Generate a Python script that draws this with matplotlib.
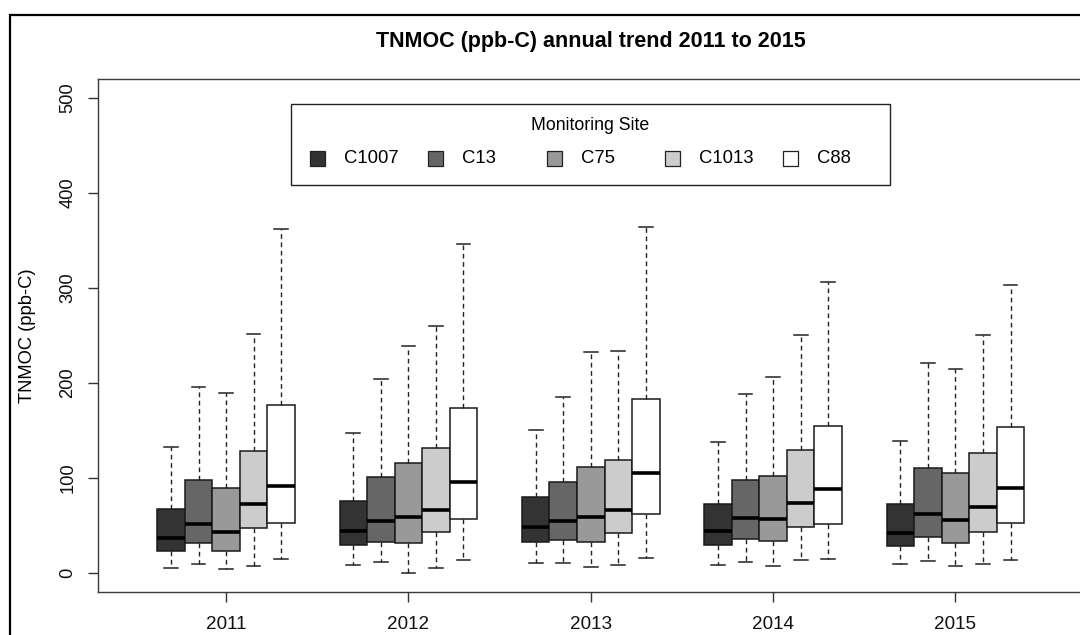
import matplotlib
matplotlib.use("Agg")
import matplotlib.pyplot as plt
from matplotlib.patches import Rectangle

plt.rcParams['font.family'] = ['Liberation Sans', 'DejaVu Sans']
plt.rcParams['lines.scale_dashes'] = False

years = [2011, 2012, 2013, 2014, 2015]
sites = ['C1007', 'C13', 'C75', 'C1013', 'C88']
site_colors = ['#333333', '#666666', '#999999', '#cccccc', '#ffffff']

# box statistics, one row per site, one column per year
whisker_low = [
    [5.7, 8.1, 10.5, 8.1, 9.5],
    [9.2, 11.6, 10.5, 11.6, 12.6],
    [4.2, 0.0, 6.7, 7.1, 7.1],
    [7.1, 5.3, 8.1, 13.7, 9.5],
    [15.2, 13.7, 16.2, 15.2, 14.1],
]
lower_quartile = [
    [23.2, 29.5, 32.7, 29.2, 28.1],
    [31.6, 33.1, 34.8, 36.2, 37.6],
    [23.2, 32.0, 32.7, 33.7, 31.6],
    [47.1, 43.2, 42.2, 48.5, 43.2],
    [53.1, 56.6, 62.2, 51.3, 52.7],
]
median = [
    [37.3, 44.7, 48.2, 44.7, 42.2],
    [52.0, 55.2, 55.2, 57.7, 62.6],
    [43.6, 58.7, 58.7, 56.6, 55.5],
    [73.1, 66.8, 66.8, 74.2, 69.6],
    [92.1, 96.3, 104.8, 88.2, 89.6],
]
upper_quartile = [
    [67.1, 76.3, 80.1, 72.7, 72.7],
    [97.7, 101.2, 95.3, 97.7, 110.3],
    [89.3, 115.3, 111.7, 102.2, 104.8],
    [128.3, 131.1, 119.1, 129.6, 126.5],
    [176.7, 173.3, 182.7, 154.6, 153.2],
]
whisker_high = [
    [132.2, 147.2, 150.7, 137.8, 138.8],
    [195.7, 204.2, 185.2, 188.3, 221.3],
    [189.7, 239.3, 232.3, 206.3, 214.7],
    [251.2, 260.3, 233.7, 250.8, 250.8],
    [361.9, 346.8, 364.7, 306.4, 303.5],
]

W, H = 1080, 635


def fig_xy(x, y):
    """Pixel position (from top-left) to figure fraction."""
    return x / W, 1 - y / H


fig = plt.figure(figsize=(W / 100, H / 100), dpi=100)
ax = fig.add_axes([97.5 / W, 43 / H, 986.5 / W, 513 / H])

box_w = 0.151
for i, site in enumerate(sites):
    stats = []
    for j in range(len(years)):
        stats.append(dict(
            whislo=whisker_low[i][j],
            q1=lower_quartile[i][j],
            med=median[i][j],
            q3=upper_quartile[i][j],
            whishi=whisker_high[i][j],
            fliers=[],
        ))
    positions = [yr + (i - 2) * box_w for yr in years]
    ax.bxp(
        stats,
        positions=positions,
        widths=box_w,
        capwidths=box_w * 0.5,
        patch_artist=True,
        showfliers=False,
        manage_ticks=False,
        boxprops=dict(facecolor=site_colors[i], edgecolor='#1a1a1a', linewidth=1.1),
        whiskerprops=dict(color='#222222', linewidth=1.0, linestyle=(0, (3.4, 2.6))),
        capprops=dict(color='#222222', linewidth=1.1),
        medianprops=dict(color='black', linewidth=2.6, solid_capstyle='butt'),
    )

ax.set_xlim(2010.295, 2015.705)
ax.set_ylim(-20, 520)
ax.set_xticks(years)
ax.set_xticklabels([str(y) for y in years])
ax.set_yticks([0, 100, 200, 300, 400, 500])
ax.tick_params(axis='both', length=7.2, width=1.0, color='#333333',
               labelcolor='#111111')
ax.tick_params(axis='x', pad=10, labelsize=13.6)
ax.tick_params(axis='y', pad=8, labelsize=13.2, labelrotation=90)
for lbl in ax.get_yticklabels():
    lbl.set_va('center')
for spine in ax.spines.values():
    spine.set_color('#3a3a3a')
    spine.set_linewidth(1.0)

ax.set_ylabel('TNMOC (ppb-C)', fontsize=13.2, labelpad=17)
ax.set_title('TNMOC (ppb-C) annual trend 2011 to 2015',
             fontsize=15.5, fontweight='bold', pad=23)

# site legend box
fig.add_artist(Rectangle(fig_xy(291, 185), 599 / W, 81 / H,
                         transform=fig.transFigure, fill=False,
                         edgecolor='#222222', linewidth=1.0))
fig.text(*fig_xy(590.5, 126), 'Monitoring Site', fontsize=12.8,
         ha='center', va='center')
for i, site in enumerate(sites):
    x0 = 310 + i * 118.3
    fig.add_artist(Rectangle(fig_xy(x0, 166.5), 15 / W, 15 / H,
                             transform=fig.transFigure,
                             facecolor=site_colors[i], edgecolor='#222222',
                             linewidth=0.9))
    fig.text(*fig_xy(x0 + 34, 159), site, fontsize=13.3,
             ha='left', va='center')

# outer frame around the plotting region
fig.add_artist(Rectangle(fig_xy(9.5, 700), 2.0, (700 - 15.3) / H,
                         transform=fig.transFigure, fill=False,
                         edgecolor='black', linewidth=1.6))

fig.savefig('out.png', dpi=100)
